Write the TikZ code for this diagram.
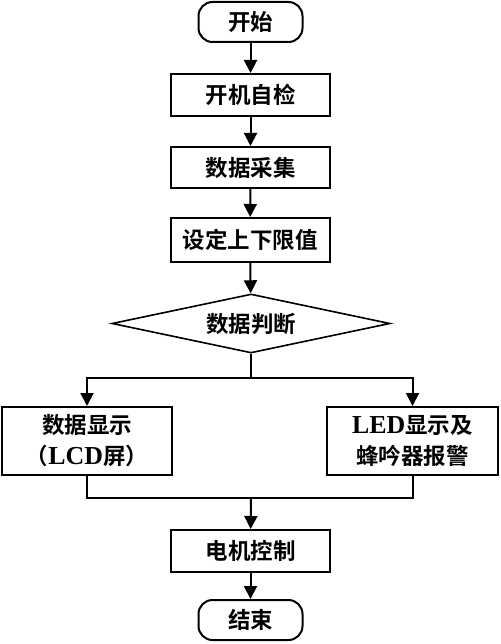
\documentclass[tikz,border=0pt]{standalone}
\usepackage{fontspec}
\setmainfont{Noto Sans CJK SC}[BoldFont={Noto Sans CJK SC Bold}]
\newfontfamily\lat{Liberation Serif}[Scale=1.15]
\usetikzlibrary{arrows.meta,shapes.geometric}
\begin{document}
\begin{tikzpicture}[x=1pt,y=-1pt,
  txt/.style={font=\fontsize{22.5}{31}\selectfont\bfseries},
  box/.style={draw, line width=2pt, minimum width=159pt, minimum height=43pt, inner sep=0pt, txt, align=center},
  term/.style={box, rounded corners=14pt, minimum width=104pt, minimum height=40pt},
  decision/.style={draw, line width=1.6pt, diamond, aspect=4.7, minimum width=278pt, minimum height=59pt, inner sep=0pt, txt},
  arr/.style={line width=2pt, -{Triangle[width=13pt,length=13pt]}},
  ln/.style={line width=2pt}]
\useasboundingbox (0,0) rectangle (500,644);
\node[term] (start) at (250.5,22) {开始};
\node[box, minimum height=42pt] (n1) at (250.5,95) {开机自检};
\node[box, minimum height=41pt] (n2) at (250.5,167.5) {数据采集};
\node[box, minimum height=44pt] (n3) at (250,240) {设定上下限值};
\node[decision] (d) at (251,323.5) {数据判断};
\node[box, minimum width=170pt, minimum height=68pt] (L) at (87,441) {数据显示\\（{\lat\bfseries LCD}屏）};
\node[box, minimum width=171pt, minimum height=68pt] (R) at (412.5,441) {{\lat\bfseries LED}显示及\\蜂吟器报警};
\node[box, minimum height=42pt] (n4) at (250.5,551) {电机控制};
\node[term] (end) at (250.5,620) {结束};
\coordinate (split) at (251,378);
\coordinate (merge) at (251,498);
\draw[arr] (start) -- (n1);
\draw[arr] (n1) -- (n2);
\draw[arr] (n2) -- (n3);
\draw[arr] (n3) -- (d);
\draw[ln] (d.south) -- (split);
\draw[arr] (split) -| (L.north);
\draw[arr] (split) -| (R.north);
\draw[ln] (L.south) |- (merge) -| (R.south);
\draw[arr] (merge) -- (n4);
\draw[arr] (n4) -- (end);
\end{tikzpicture}
\end{document}
